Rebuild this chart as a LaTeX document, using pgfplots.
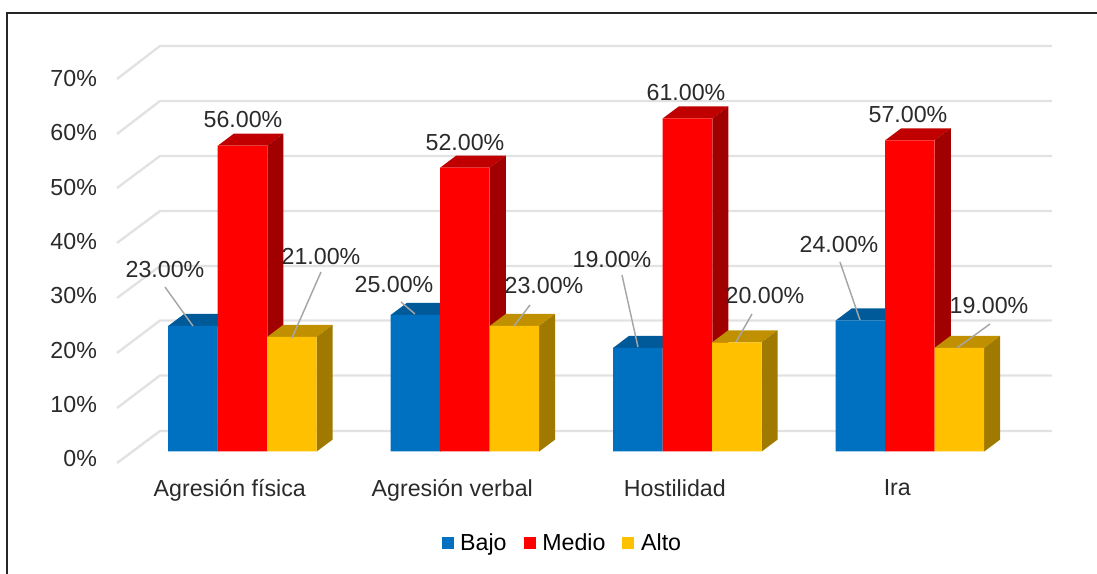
\documentclass[border=0pt]{standalone}
\usepackage{fontspec}
\setmainfont{Liberation Sans}
\usepackage{pgfplots}
\pgfplotsset{compat=1.18}
\usepackage{xcolor}

\definecolor{azul}{HTML}{0070C0}
\definecolor{azultop}{HTML}{005A9A}
\definecolor{azulside}{HTML}{004E85}
\definecolor{rojo}{HTML}{FF0000}
\definecolor{rojotop}{HTML}{C00000}
\definecolor{rojoside}{HTML}{A00000}
\definecolor{ama}{HTML}{FFC000}
\definecolor{amatop}{HTML}{C09000}
\definecolor{amaside}{HTML}{A07A00}
\definecolor{rejilla}{HTML}{E2E2E2}
\definecolor{guias}{HTML}{A6A6A6}
\definecolor{texto}{HTML}{2A2A2A}

% top and side face of a bar: left edge, value, colours
\newcommand{\caras}[4]{%
  \pgfmathsetmacro{\xa}{#1}
  \pgfmathsetmacro{\xb}{#1+0.2225}
  \pgfmathsetmacro{\xc}{#1+0.2225+0.0719}
  \pgfmathsetmacro{\xd}{#1+0.0719}
  \pgfmathsetmacro{\yb}{#2+2.198}
  \addplot[fill=#3,draw=none,forget plot] coordinates {(\xa,#2) (\xb,#2) (\xc,\yb) (\xd,\yb)} --cycle;
  \addplot[fill=#4,draw=none,forget plot] coordinates {(\xb,0) (\xc,2.198) (\xc,\yb) (\xb,#2)} --cycle;
}
% leader line and data label, positions given in image pixels
\newcommand{\guia}[4]{%
  \pgfmathsetmacro{\xa}{(#1-242.5)/222.5}
  \pgfmathsetmacro{\ya}{(451.5-#2)/5.46}
  \pgfmathsetmacro{\xb}{(#3-242.5)/222.5}
  \pgfmathsetmacro{\yb}{(451.5-#4)/5.46}
  \addplot[color=guias,line width=1.1pt,forget plot] coordinates {(\xa,\ya) (\xb,\yb)};
}
\newcommand{\etiq}[3]{%
  \pgfmathsetmacro{\xa}{(#1-242.5)/222.5}
  \pgfmathsetmacro{\ya}{(451.5-#2)/5.46}
  \edef\temp{\noexpand\node[text=texto,inner sep=0pt] at (axis cs:\xa,\ya) {#3};}
  \temp
}

\begin{document}
\begin{tikzpicture}
\useasboundingbox (-75pt,-78pt) rectangle (747.75pt,352.5pt);
\draw[black!85,line width=1.2pt] (-69.75pt,-90pt) -- (-69.75pt,342.75pt) -- (760pt,342.75pt);
\begin{axis}[
  scale only axis,
  width=720pt,
  height=330pt,
  xmin=-0.6404,xmax=3.6742,
  ymin=-3.388,ymax=77.198,
  clip=false,
  axis line style={draw=none},
  tick style={draw=none},
  font=\fontsize{17.4}{20}\selectfont,
  /pgf/number format/assume math mode=true,
  ytick={-1.37,8.6,18.5,28.5,38.5,48.4,58.4,68.3},
  yticklabels={0\%,10\%,20\%,30\%,40\%,50\%,60\%,70\%},
  yticklabel style={text=texto,xshift=1.2pt},
  xtick={0,1,2,3},
  xticklabels={Agresión física,Agresión verbal,Hostilidad,Ira},
  xticklabel style={text=texto,xshift=-9.5pt,yshift=-3.5pt},
  legend columns=3,
  legend style={at={(axis cs:1.439,-16.8)},anchor=center,draw=none,fill=none,
    /tikz/every even column/.append style={column sep=10.75pt},inner sep=0pt},
  legend image code/.code={\fill[#1] (0pt,-4.5pt) rectangle (9pt,4.5pt);\path (12pt,0pt);},
]
% wall and floor grid
\addplot[rejilla,line width=1.8pt,forget plot] coordinates {(-0.564,-2.11) (-0.3708,3.75) (3.638,3.75)};
\addplot[rejilla,line width=1.8pt,forget plot] coordinates {(-0.564,7.97) (-0.3708,13.92) (3.638,13.92)};
\addplot[rejilla,line width=1.8pt,forget plot] coordinates {(-0.564,18.04) (-0.3708,23.99) (3.638,23.99)};
\addplot[rejilla,line width=1.8pt,forget plot] coordinates {(-0.564,28.11) (-0.3708,33.97) (3.638,33.97)};
\addplot[rejilla,line width=1.8pt,forget plot] coordinates {(-0.564,38.19) (-0.3708,44.05) (3.638,44.05)};
\addplot[rejilla,line width=1.8pt,forget plot] coordinates {(-0.564,48.26) (-0.3708,54.12) (3.638,54.12)};
\addplot[rejilla,line width=1.8pt,forget plot] coordinates {(-0.564,58.15) (-0.3708,64.19) (3.638,64.19)};
\addplot[rejilla,line width=1.8pt,forget plot] coordinates {(-0.564,68.22) (-0.3708,74.27) (3.638,74.27)};

% depth faces
\caras{-0.3337}{23}{azultop}{azulside}
\caras{0.6663}{25}{azultop}{azulside}
\caras{1.6663}{19}{azultop}{azulside}
\caras{2.6663}{24}{azultop}{azulside}
\caras{-0.1112}{56}{rojotop}{rojoside}
\caras{0.8888}{52}{rojotop}{rojoside}
\caras{1.8888}{61}{rojotop}{rojoside}
\caras{2.8888}{57}{rojotop}{rojoside}
\caras{0.1112}{21}{amatop}{amaside}
\caras{1.1112}{23}{amatop}{amaside}
\caras{2.1112}{20}{amatop}{amaside}
\caras{3.1112}{19}{amatop}{amaside}

% front faces
\addplot[ybar,bar width=37.125pt,bar shift=-37.125pt,fill=azul,draw=none]
  coordinates {(0,23) (1,25) (2,19) (3,24)};
\addlegendentry{Bajo}
\addplot[ybar,bar width=37.125pt,bar shift=0pt,fill=rojo,draw=none]
  coordinates {(0,56) (1,52) (2,61) (3,57)};
\addlegendentry{Medio}
\addplot[ybar,bar width=37.125pt,bar shift=37.125pt,fill=ama,draw=none]
  coordinates {(0,21) (1,23) (2,20) (3,19)};
\addlegendentry{Alto}

% leader lines
\guia{165}{287}{193}{326}
\guia{321}{272}{292}{338}
\guia{401}{302}{415}{314}
\guia{530}{305}{514}{326}
\guia{622}{275}{638}{347}
\guia{752}{314}{736}{342}
\guia{840}{262}{860}{320}
\guia{990}{324}{957}{348}

% data labels
\etiq{165}{270}{23.00\%}
\etiq{243}{120}{56.00\%}
\etiq{321}{257}{21.00\%}
\etiq{394}{285}{25.00\%}
\etiq{465}{143}{52.00\%}
\etiq{544}{286}{23.00\%}
\etiq{612}{260}{19.00\%}
\etiq{686}{93}{61.00\%}
\etiq{765}{296}{20.00\%}
\etiq{839}{245}{24.00\%}
\etiq{908}{115}{57.00\%}
\etiq{989}{306}{19.00\%}
\end{axis}
\end{tikzpicture}
\end{document}
